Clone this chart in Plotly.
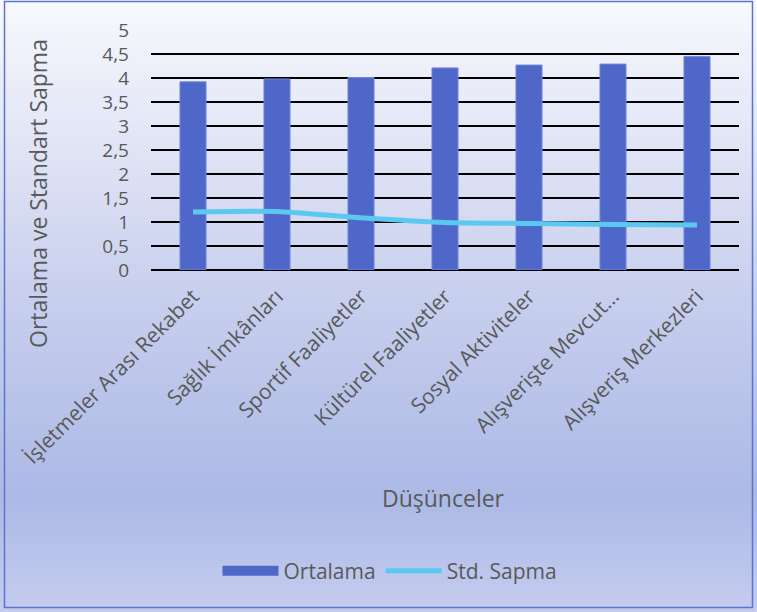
import plotly.graph_objects as go

categories = ["İşletmeler Arası Rekabet", "Sağlık İmkânları", "Sportif Faaliyetler",
              "Kültürel Faaliyetler", "Sosyal Aktiviteler", "Alışverişte Mevcut…",
              "Alışveriş Merkezleri"]
ortalama = [3.92, 3.98, 4.01, 4.21, 4.27, 4.29, 4.45]
std_sapma = [1.21, 1.22, 1.09, 0.99, 0.97, 0.95, 0.94]
y_ticks = [0, 0.5, 1, 1.5, 2, 2.5, 3, 3.5, 4, 4.5, 5]

W, H = 757, 612
L, R, T, B = 151, 18, 30, 342
PW, PH = W - L - R, H - T - B

BAR_COLOR = "#4e67c8"
LINE_COLOR = "#5bc8f0"
TEXT = "#595959"
FONT = "Open Sans"


def px_x(p):
    return (p - L) / PW


def px_y(p):
    return (H - B - p) / PH


def hex2rgb(h):
    h = h.lstrip("#")
    return [int(h[i:i + 2], 16) for i in (0, 2, 4)]


stops = [(0, "#f8f9fd"), (290, "#c9d0ee"), (495, "#acb9e6"), (612, "#c5ccef")]


def grad(p):
    for (a, ca), (b, cb) in zip(stops[:-1], stops[1:]):
        if a <= p <= b:
            t = (p - a) / (b - a)
            A, Bc = hex2rgb(ca), hex2rgb(cb)
            return "rgb(%d,%d,%d)" % tuple(round(A[i] + (Bc[i] - A[i]) * t) for i in range(3))
    return stops[-1][1]


shapes = []
step = 4
for p in range(0, H, step):
    shapes.append(dict(type="rect", xref="paper", yref="paper",
                       x0=px_x(0), x1=px_x(W), y0=px_y(p + step + 0.5), y1=px_y(p),
                       fillcolor=grad(p + step / 2), line=dict(width=0), layer="below"))
shapes.append(dict(type="rect", xref="paper", yref="paper",
                   x0=px_x(4.5), x1=px_x(752.5), y0=px_y(607.5), y1=px_y(1.5),
                   line=dict(color="#5a74cf", width=1.5), fillcolor="rgba(0,0,0,0)",
                   layer="above"))

fig = go.Figure()
fig.add_trace(go.Bar(x=categories, y=ortalama, name="Ortalama", showlegend=False,
                     marker=dict(color=BAR_COLOR, line=dict(color="#7088d8", width=1)),
                     width=0.31))
fig.add_trace(go.Scatter(x=[None], y=[None], mode="lines", name="Ortalama",
                         line=dict(color=BAR_COLOR, width=14)))
fig.add_trace(go.Scatter(x=categories, y=std_sapma, mode="lines", name="Std. Sapma",
                         line=dict(color=LINE_COLOR, width=5, shape="spline", smoothing=0.6)))

fig.update_layout(
    template="none",
    width=W, height=H, autosize=False,
    margin=dict(l=L, r=R, t=T, b=B),
    paper_bgcolor="white", plot_bgcolor="rgba(0,0,0,0)",
    separators=",.",
    font=dict(family=FONT, color=TEXT, size=18),
    shapes=shapes,
    showlegend=True,
    legend=dict(orientation="h", x=px_x(390), xanchor="center", y=px_y(571), yanchor="middle",
                font=dict(size=21, color=TEXT), itemwidth=56, bgcolor="rgba(0,0,0,0)",
                traceorder="normal"),
    annotations=[
        dict(text="Düşünceler", xref="paper", yref="paper", x=px_x(443), y=px_y(498),
             showarrow=False, font=dict(size=23, color=TEXT), xanchor="center", yanchor="middle"),
        dict(text="Ortalama ve Standart Sapma", xref="paper", yref="paper", x=px_x(38),
             y=px_y(194), textangle=-90, showarrow=False, font=dict(size=23, color=TEXT),
             xanchor="center", yanchor="middle"),
    ],
)
fig.update_xaxes(automargin=False, tickangle=-45, showgrid=False, showline=False, ticks="",
                 zeroline=False, ticklabelstandoff=9, tickfont=dict(size=21, color=TEXT))
fig.update_yaxes(automargin=False, range=[0, 5], tickvals=y_ticks, showgrid=True,
                 gridcolor="black", gridwidth=2, zeroline=True, zerolinecolor="black",
                 zerolinewidth=2, showline=False, ticks="", ticklabelstandoff=21,
                 tickfont=dict(size=19, color=TEXT))

fig.write_html("out.html", config={"displayModeBar": False},
               post_script="document.body.style.margin='0';")
